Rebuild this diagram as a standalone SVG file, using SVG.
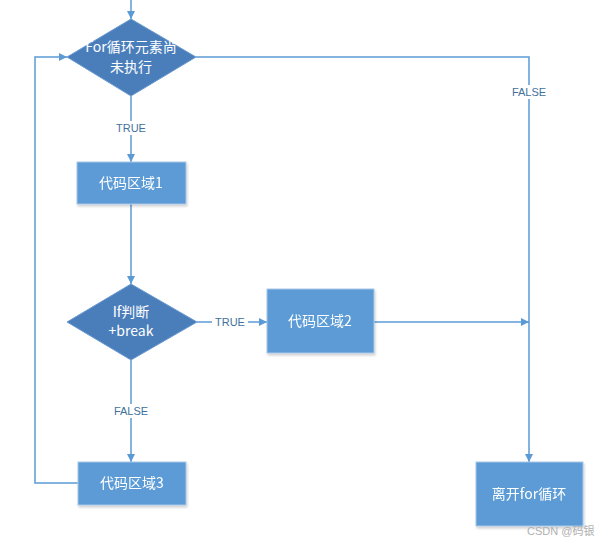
<svg xmlns="http://www.w3.org/2000/svg" width="610" height="546" viewBox="0 0 610 546">
<style>
.box{fill:#5b9bd5;stroke:#a9c8e8;stroke-width:1}
.dia{fill:#4a7ebb;stroke:#6b9bd0;stroke-width:1}
.t{font-family:"Microsoft YaHei","Noto Sans CJK SC",sans-serif;font-size:14px;fill:#ffffff;text-anchor:middle}
.ln{fill:none;stroke:#5b9bd5;stroke-width:1.5}
.lbl{font-family:"Liberation Sans","Noto Sans",sans-serif;font-size:11px;fill:#41719c;text-anchor:middle}
.lblbg{fill:#ffffff}
.wm{font-family:"Liberation Sans","Noto Sans CJK SC",sans-serif;font-size:11px;fill:#b0b0b0}
</style>
<defs>
<marker id="ah" viewBox="0 0 10 10" refX="10" refY="5" markerWidth="8" markerHeight="8" markerUnits="userSpaceOnUse" orient="auto">
<path d="M0,0 L10,5 L0,10 z" fill="#5b9bd5"/>
</marker>
<filter id="sh" x="-10%" y="-10%" width="120%" height="130%">
<feDropShadow dx="1" dy="2" stdDeviation="1.2" flood-color="#000" flood-opacity="0.18"/>
</filter>
</defs>
<rect width="610" height="546" fill="#ffffff"/>
<g id="connectors">
<path class="ln" d="M131,0 L131,19" marker-end="url(#ah)"/>
<path class="ln" d="M131,96 L131,162" marker-end="url(#ah)"/>
<path class="ln" d="M131,204 L131,284" marker-end="url(#ah)"/>
<path class="ln" d="M197,322 L267,322" marker-end="url(#ah)"/>
<path class="ln" d="M374,322 L529,322" marker-end="url(#ah)"/>
<path class="ln" d="M131,360 L131,462" marker-end="url(#ah)"/>
<path class="ln" d="M78,483 L35,483 L35,57 L67,57" marker-end="url(#ah)"/>
<path class="ln" d="M196,57 L529,57 L529,462" marker-end="url(#ah)"/>
<rect class="lblbg" x="113" y="121" width="36" height="14"/>
<text class="lbl" x="131" y="132">TRUE</text>
<rect class="lblbg" x="212" y="315" width="36" height="14"/>
<text class="lbl" x="230" y="326">TRUE</text>
<rect class="lblbg" x="110" y="404" width="42" height="14"/>
<text class="lbl" x="131" y="415">FALSE</text>
<rect class="lblbg" x="508" y="85" width="42" height="14"/>
<text class="lbl" x="529" y="96">FALSE</text>
</g>
<g id="n_for">
<polygon class="dia" points="131,19 196,57 131,96 67,57"/>
<text class="t" x="131" y="52">For循环元素尚</text>
<text class="t" x="131" y="72">未执行</text>
</g>
<g id="n_code1" filter="url(#sh)">
<rect class="box" x="77" y="162" width="109" height="42"/>
<text class="t" x="131" y="188">代码区域1</text>
</g>
<g id="n_if">
<polygon class="dia" points="131,284 197,322 131,360 67,322"/>
<text class="t" x="131" y="317">If判断</text>
<text class="t" x="131" y="336">+break</text>
</g>
<g id="n_code2" filter="url(#sh)">
<rect class="box" x="267" y="289" width="107" height="64"/>
<text class="t" x="320" y="326">代码区域2</text>
</g>
<g id="n_code3" filter="url(#sh)">
<rect class="box" x="78" y="462" width="108" height="43"/>
<text class="t" x="132" y="488">代码区域3</text>
</g>
<g id="n_exit" filter="url(#sh)">
<rect class="box" x="476" y="462" width="107" height="64"/>
<text class="t" x="529" y="499">离开for循环</text>
</g>
<text class="wm" x="527" y="535">CSDN @码银</text>
</svg>
